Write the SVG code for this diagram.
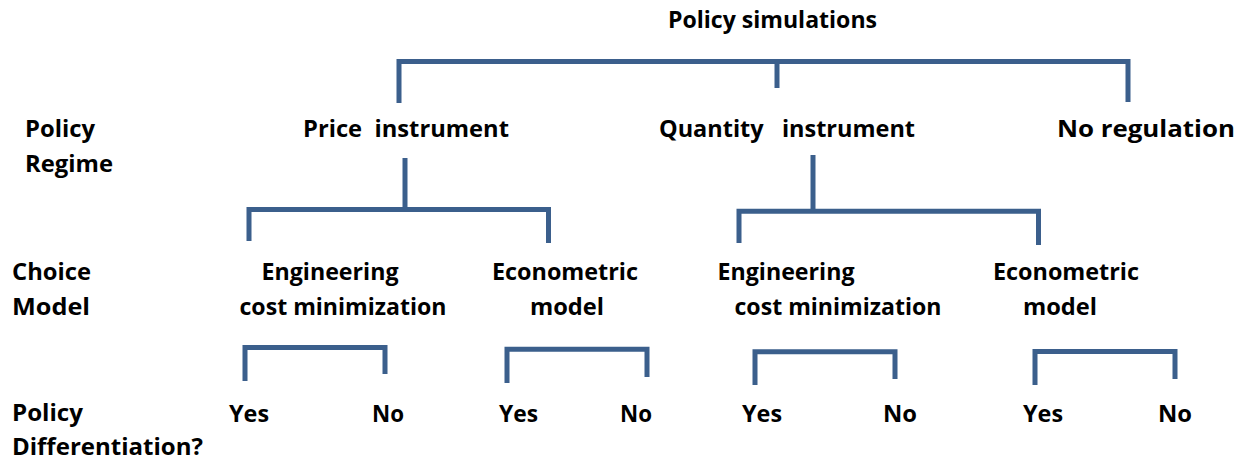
<svg xmlns="http://www.w3.org/2000/svg" width="1252" height="466" viewBox="0 0 1252 466">
<style>
text{font-family:"Open Sans","Noto Sans","Liberation Sans",sans-serif;font-weight:bold;font-size:24px;fill:#000}
.c{text-anchor:middle}
.ln{fill:none;stroke:#3b5f8c;stroke-width:5;stroke-linejoin:miter;stroke-linecap:butt}
</style>
<rect width="1252" height="466" fill="#fff"/>
<g id="connectors">
<path class="ln" d="M399,103 V61.5 H1128 V102"/>
<path class="ln" d="M777,62 V88"/>
<path class="ln" d="M405,158 V209.5"/>
<path class="ln" d="M249,241 V209.5 H548.5 V243"/>
<path class="ln" d="M813,155 V211.3"/>
<path class="ln" d="M739,243 V211.3 H1038.5 V245"/>
<path class="ln" d="M245,381 V347.5 H385 V374"/>
<path class="ln" d="M507,383 V349.3 H647 V377"/>
<path class="ln" d="M755,385 V351.7 H895 V379"/>
<path class="ln" d="M1035,385 V351.5 H1175 V379"/>
</g>
<g id="root"><text x="668" y="28" textLength="209" lengthAdjust="spacingAndGlyphs">Policy simulations</text></g>
<g id="label-regime">
<text x="25" y="137" textLength="70" lengthAdjust="spacingAndGlyphs">Policy</text>
<text x="25" y="172" textLength="88" lengthAdjust="spacingAndGlyphs">Regime</text>
</g>
<g id="label-choice">
<text x="12" y="280" textLength="79" lengthAdjust="spacingAndGlyphs">Choice</text>
<text x="12" y="315" textLength="78" lengthAdjust="spacingAndGlyphs">Model</text>
</g>
<g id="label-diff">
<text x="12" y="421" textLength="71" lengthAdjust="spacingAndGlyphs">Policy</text>
<text x="12" y="455" textLength="191" lengthAdjust="spacingAndGlyphs">Differentiation?</text>
</g>
<g id="price"><text x="303" y="137" textLength="206" lengthAdjust="spacingAndGlyphs" xml:space="preserve">Price  instrument</text></g>
<g id="quantity"><text x="659" y="137" textLength="256" lengthAdjust="spacingAndGlyphs" xml:space="preserve">Quantity   instrument</text></g>
<g id="noreg"><text x="1057" y="137" textLength="178" lengthAdjust="spacingAndGlyphs">No regulation</text></g>
<g id="eng1">
<text class="c" x="330" y="280" textLength="137" lengthAdjust="spacingAndGlyphs">Engineering</text>
<text class="c" x="343" y="315" textLength="207" lengthAdjust="spacingAndGlyphs">cost minimization</text>
</g>
<g id="eco1">
<text class="c" x="565" y="280" textLength="146" lengthAdjust="spacingAndGlyphs">Econometric</text>
<text class="c" x="567" y="315" textLength="74" lengthAdjust="spacingAndGlyphs">model</text>
</g>
<g id="eng2">
<text class="c" x="786" y="280" textLength="137" lengthAdjust="spacingAndGlyphs">Engineering</text>
<text class="c" x="838" y="315" textLength="207" lengthAdjust="spacingAndGlyphs">cost minimization</text>
</g>
<g id="eco2">
<text class="c" x="1066" y="280" textLength="146" lengthAdjust="spacingAndGlyphs">Econometric</text>
<text class="c" x="1060" y="315" textLength="74" lengthAdjust="spacingAndGlyphs">model</text>
</g>
<g id="yes1"><text x="229" y="422" textLength="40" lengthAdjust="spacingAndGlyphs">Yes</text></g>
<g id="no1"><text x="372" y="422" textLength="32" lengthAdjust="spacingAndGlyphs">No</text></g>
<g id="yes2"><text x="499" y="422" textLength="39" lengthAdjust="spacingAndGlyphs">Yes</text></g>
<g id="no2"><text x="620" y="422" textLength="32" lengthAdjust="spacingAndGlyphs">No</text></g>
<g id="yes3"><text x="742" y="422" textLength="40" lengthAdjust="spacingAndGlyphs">Yes</text></g>
<g id="no3"><text x="883" y="422" textLength="34" lengthAdjust="spacingAndGlyphs">No</text></g>
<g id="yes4"><text x="1023" y="422" textLength="40" lengthAdjust="spacingAndGlyphs">Yes</text></g>
<g id="no4"><text x="1158" y="422" textLength="34" lengthAdjust="spacingAndGlyphs">No</text></g>
</svg>
